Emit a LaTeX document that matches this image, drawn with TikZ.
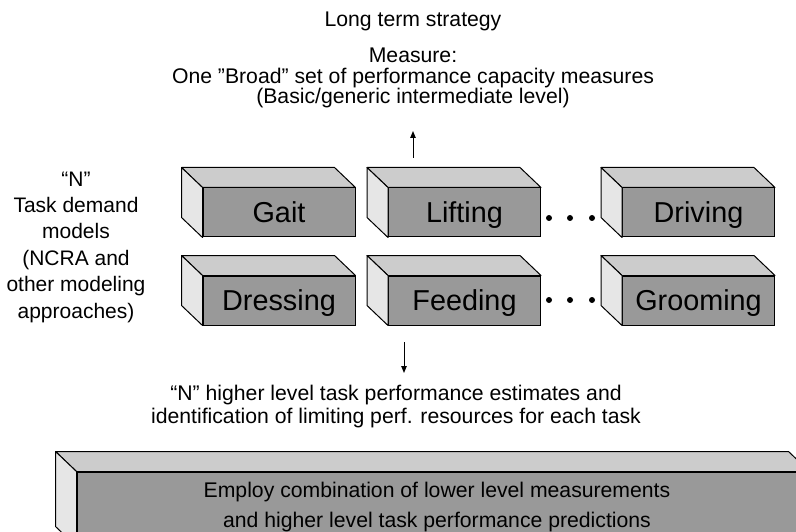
\documentclass[tikz,border=0pt]{standalone}
\usepackage{fontspec}
\setmainfont{Liberation Sans}
\usetikzlibrary{arrows.meta}

\definecolor{frontgray}{HTML}{999999}
\definecolor{topgray}{HTML}{CCCCCC}
\definecolor{sidegray}{HTML}{E6E6E6}

\tikzset{
  frontface/.style={draw, fill=frontgray, line width=1pt, inner sep=0pt,
    minimum width=152pt, minimum height=49pt, text height=20.6pt, text depth=0pt,
    font=\fontsize{28.8}{32}\selectfont},
  topface/.style={draw, fill=topgray, line width=1pt, line join=round},
  sideface/.style={draw, fill=sidegray, line width=1pt, line join=round},
  caption/.style={align=center, inner sep=0pt},
  flow/.style={line width=1pt, -{Triangle[length=7pt,width=5.5pt]}},
}

% top and left faces of a block, taken from its front node
\newcommand{\blockfaces}[1]{%
  \draw[topface] (#1.north west) -- ++(-21,-20)
    -- ([xshift=-21pt,yshift=20pt]#1.north east) -- (#1.north east) -- cycle;
  \draw[sideface] (#1.north west) -- ++(-21,-20)
    -- ([xshift=-21pt,yshift=20pt]#1.south west) -- (#1.south west) -- cycle;
}

\begin{document}
\begin{tikzpicture}[x=1pt, y=-1pt, font=\fontsize{21.2}{24}\selectfont]
    \useasboundingbox (0,0) rectangle (796,532);
    \clip (0,0) rectangle (796,532);

    % Top texts
    \node[caption] (strategy) at (413,21) {Long term strategy};
    \node[caption, font=\fontsize{21.2}{20.5}\selectfont] (measure) at (413,78)
        {Measure:\\One ”Broad” set of performance capacity measures\\(Basic/generic intermediate level)};

    % Left texts
    \node[caption, font=\fontsize{21}{26.4}\selectfont] (models) at (76,247)
        {“N”\\Task demand\\models\\(NCRA and\\other modeling\\approaches)};

    % Row 1 blocks
    \node[frontface] (gait) at (279,212.5) {Gait};
    \node[frontface] (lifting) at (464.5,212.5) {Lifting};
    \node[frontface] (driving) at (698.5,212.5) {Driving};

    % Row 2 blocks
    \node[frontface] (dressing) at (279,300.5) {Dressing};
    \node[frontface] (feeding) at (464.5,300.5) {Feeding};
    \node[frontface] (grooming) at (698.5,300.5) {Grooming};

    \foreach \b in {gait,lifting,driving,dressing,feeding,grooming}
        \blockfaces{\b};

    % Dots between blocks
    \foreach \y in {218,300}
        \foreach \x in {549,570,592}
            \fill (\x,\y) circle (3pt);

    % Arrows
    \coordinate (uptail) at (413,158);
    \coordinate (uptip) at (413,131);
    \draw[flow] (uptail) -- (uptip);
    \coordinate (downtail) at (404,342);
    \coordinate (downtip) at (404,373);
    \draw[flow] (downtail) -- (downtip);

    % Bottom texts
    \node[caption, font=\fontsize{21.2}{23}\selectfont] (estimates) at (396,407)
        {“N” higher level task performance estimates and\\identification of limiting perf. resources for each task};

    % Bottom block
    \node[frontface, minimum width=732pt, minimum height=74pt] (combine) at (443,509) {};
    \blockfaces{combine}
    \node[caption, font=\fontsize{21.2}{30}\selectfont] (employ) at (437,507)
        {Employ combination of lower level measurements\\and higher level task performance predictions};
\end{tikzpicture}
\end{document}
